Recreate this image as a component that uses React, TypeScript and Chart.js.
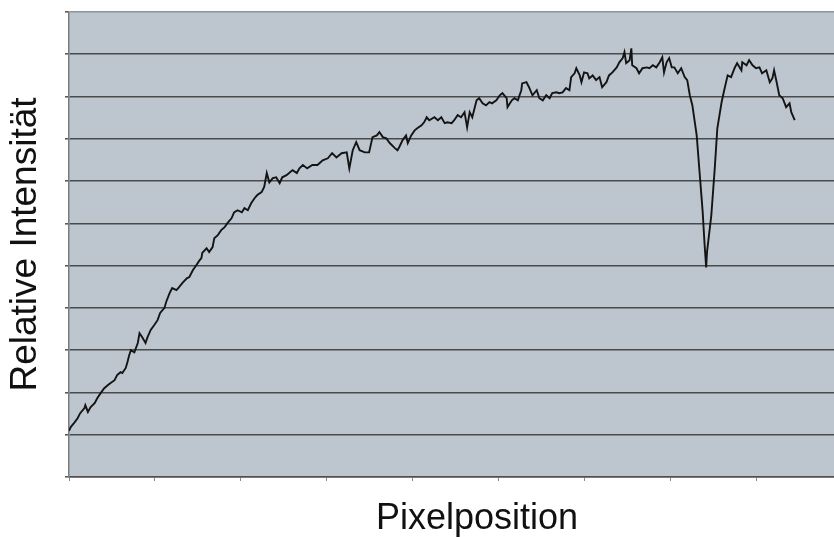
import React, { useEffect, useRef } from "react";
import { Chart, registerables } from "chart.js";

Chart.register(...registerables);

// Pixel position (x) and relative intensity (y)
const pixelPos: number[] = [
  0, 2, 6, 10, 13, 18, 19, 22, 25, 30, 33, 37, 41, 45, 48, 53, 56, 60, 62, 66,
  68, 70, 72, 76, 80, 82, 85, 89, 91, 95, 99, 103, 106, 111, 113, 117, 120, 125, 128, 132,
  137, 140, 144, 148, 152, 154, 155, 160, 163, 167, 169, 173, 177, 181, 184, 189, 192, 196, 201, 204,
  208, 212, 216, 219, 224, 227, 230, 233, 237, 241, 245, 248, 253, 256, 260, 265,
  268, 272, 277, 283, 289, 295, 301, 306, 311, 317, 323, 326, 330, 334, 338, 344, 349, 353, 358, 361, 365,
  369, 373, 379, 382, 384, 388, 392, 394, 398, 402, 405, 410, 413, 416, 419, 425, 429, 433, 437, 440,
  445, 448, 452, 456, 460, 463, 466, 469, 474, 477, 481, 485, 489, 492, 497, 501, 504, 509, 510, 515,
  518, 522, 526, 527, 532, 535, 539, 544, 547, 551, 555, 559, 562, 567, 570, 574, 578, 582, 584, 588,
  590, 594, 596, 599, 603, 605, 609, 613, 617, 620, 625, 628, 632, 637, 640, 644, 646, 648, 652, 654,
  655, 660, 663, 667, 672, 675, 679, 683, 687, 690, 692, 695, 698, 701, 704, 708, 712, 716, 719, 722,
  725, 730, 733, 737, 739, 741, 742, 747, 751, 754, 759, 762, 766, 770, 774, 777, 782, 783, 788, 791,
  795, 799, 803, 806, 811, 815, 818, 820, 823, 826, 830, 834, 838, 840, 844,
];

const intensity: number[] = [
  109, 118, 128, 139, 151, 163, 170, 154, 165, 175, 187, 199, 210, 217, 222, 229, 241, 248, 246, 258,
  272, 288, 300, 295, 317, 340, 331, 317, 329, 348, 359, 371, 388, 400, 414, 435, 447, 442, 449, 459,
  470, 473, 489, 501, 513, 518, 530, 541, 532, 544, 565, 572, 584, 591, 600, 612, 626, 631, 626, 636,
  631, 648, 660, 667, 674, 686, 719, 697, 707, 709, 695, 709, 714, 719, 726, 719,
  730, 738, 730, 738, 738, 749, 754, 766, 756, 766, 768, 730, 773, 792, 773, 768, 768, 804, 808, 816, 804,
  801, 790, 778, 773, 780, 797, 808, 790, 808, 820, 825, 832, 839, 851, 844, 851, 844, 851, 837, 839,
  837, 844, 856, 851, 863, 827, 863, 851, 891, 896, 884, 879, 887, 884, 891, 903, 908, 896, 875, 891,
  896, 891, 915, 931, 934, 922, 903, 915, 896, 891, 903, 896, 908, 910, 908, 910, 920, 915, 946, 955,
  967, 950, 934, 957, 955, 943, 950, 939, 946, 922, 934, 950, 957, 969, 981, 991, 1005, 979, 986, 1014,
  974, 967, 955, 967, 969, 967, 974, 969, 981, 993, 957, 981, 991, 969, 969, 955, 967, 946, 939, 903,
  879, 808, 730, 626, 556, 496, 532, 619, 730, 825, 887, 915, 950, 946, 967, 979, 962, 981, 974, 986,
  974, 967, 969, 955, 962, 934, 943, 962, 934, 903, 896, 875, 884, 863, 844,
];

const xTickValues: number[] = [0, 100, 200, 300, 400, 500, 600, 700, 800, 900];
const yMin = 0;
const yMax = 1100;
const yStep = 100;
const xMin = 0;
const xMax = 949;

const xTitle = "Pixelposition";
const yTitle = "Relative Intensität";

const plotBg = {
  id: "plotBg",
  beforeDraw(chart: any) {
    const { ctx, chartArea } = chart;
    if (!chartArea) return;
    ctx.save();
    ctx.fillStyle = "#bdc6cf";
    ctx.fillRect(chartArea.left, chartArea.top, chartArea.right - chartArea.left, chartArea.bottom - chartArea.top);
    ctx.restore();
  },
};

export default function App() {
  const ref = useRef<HTMLCanvasElement | null>(null);

  useEffect(() => {
    document.body.style.margin = "0";
    document.body.style.overflow = "hidden";
    const canvas = ref.current;
    if (!canvas) return;
    const points = pixelPos.map((x, i) => ({ x, y: intensity[i] }));
    const fontFamily = "'Liberation Sans', Arial, Helvetica, sans-serif";
    const chart = new Chart(canvas, {
      type: "line",
      data: {
        datasets: [
          {
            data: points,
            borderColor: "#141414",
            borderWidth: 1.9,
            pointRadius: 0,
            tension: 0,
            fill: false,
          },
        ],
      },
      options: {
        animation: false,
        responsive: false,
        devicePixelRatio: 1,
        parsing: false as any,
        layout: { padding: { top: 12, left: 0, right: 0, bottom: 0 } },
        plugins: {
          legend: { display: false },
          tooltip: { enabled: false },
        },
        scales: {
          x: {
            type: "linear",
            min: xMin,
            max: xMax,
            afterBuildTicks: (axis: any) => {
              axis.ticks = xTickValues.map((v) => ({ value: v }));
            },
            ticks: { display: false },
            grid: {
              display: true,
              drawOnChartArea: false,
              drawTicks: true,
              tickLength: 4,
              tickColor: "#8a8a8a",
              tickWidth: 1,
            },
            border: { display: true, color: "#505050", width: 1.6 },
            title: {
              display: true,
              text: xTitle,
              color: "#111111",
              font: { family: fontFamily, size: 36, lineHeight: 1 },
              padding: { top: 20, bottom: 0 },
            },
          },
          y: {
            type: "linear",
            min: yMin,
            max: yMax,
            ticks: { display: false, stepSize: yStep },
            grid: {
              display: true,
              drawOnChartArea: true,
              drawTicks: true,
              tickLength: 4,
              color: (c: any) => (c.tick && c.tick.value === yMax ? "#8d9399" : "#4a4a4a"),
              tickColor: "#5a5a5a",
              lineWidth: 1.6,
            },
            border: { display: true, color: "#7c7c7c", width: 1.5 },
            title: {
              display: true,
              text: yTitle,
              color: "#111111",
              font: { family: fontFamily, size: 37, lineHeight: 1 },
              padding: { top: 7, bottom: 21 },
            },
          },
        },
      },
      plugins: [plotBg],
    });
    return () => chart.destroy();
  }, []);

  return (
    <div style={{ width: 834, height: 537, overflow: "hidden", background: "#ffffff" }}>
      <canvas ref={ref} width={885} height={537} style={{ display: "block", width: 885, height: 537 }} />
    </div>
  );
}
